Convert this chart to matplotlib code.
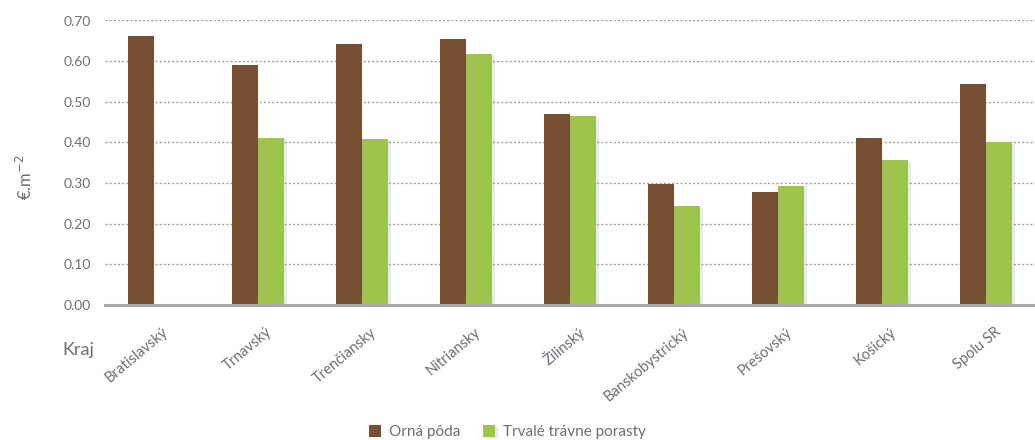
import numpy as np
import matplotlib.pyplot as plt
from matplotlib import patheffects as pe

kraje = ['Bratislavský', 'Trnavský', 'Trenčiansky', 'Nitriansky', 'Žilinský',
         'Banskobystrický', 'Prešovský', 'Košický', 'Spolu SR']
orna_poda = [0.661, 0.590, 0.641, 0.654, 0.469, 0.297, 0.278, 0.410, 0.543]
trvale_porasty = [0.0, 0.411, 0.408, 0.617, 0.464, 0.243, 0.293, 0.356, 0.400]

brown = '#774f33'
green = '#9dc54b'
gray = '#6d6e71'

plt.rcParams['font.family'] = ['Lato', 'DejaVu Sans']

fig = plt.figure(figsize=(10.35, 4.4), dpi=100)
ax = fig.add_axes([105 / 1035, 1 - 305 / 440, 930 / 1035, 284.5 / 440])

x = np.arange(len(kraje))
w = 0.25
ax.bar(x - w / 2, orna_poda, w, color=brown, label='Orná pôda', zorder=3)
zb = ax.bar(x + w / 2, trvale_porasty, w, color=green, label='Trvalé trávne porasty', zorder=3)
for b in zb:
    b.set_path_effects([pe.SimplePatchShadow(offset=(2, -1), shadow_rgbFace='#999999', alpha=0.2),
                        pe.Normal()])

ax.set_xlim(-0.47, 8.47)
ax.set_ylim(0, 0.70)
ax.set_yticks(np.arange(0, 0.71, 0.1))
ax.set_yticklabels(['%.2f' % v for v in np.arange(0, 0.71, 0.1)], color=gray, fontsize=10)
ax.grid(axis='y', linestyle=(0, (1.5, 1.5)), color='#a0a0a0', linewidth=1, zorder=0)
ax.tick_params(axis='y', length=0, pad=10)
ax.tick_params(axis='x', length=0, pad=2)

ax.set_xticks(x + 0.12)
ax.set_xticklabels(kraje, rotation=40, ha='right', va='center', rotation_mode='anchor',
                   color=gray, fontsize=10.5)
for lbl in ax.get_xticklabels():
    lbl.set_y(-0.08)

for s in ['left', 'right', 'top']:
    ax.spines[s].set_visible(False)
ax.spines['bottom'].set_color('#a6a8ab')
ax.spines['bottom'].set_linewidth(2.2)
ax.spines['bottom'].set_zorder(4)

ax.set_ylabel('€.m$^{-2}$', color=gray, fontsize=12)
ax.yaxis.set_label_coords(-0.075, 0.45)
fig.text(62 / 1035, 1 - 350 / 440, 'Kraj', color=gray, fontsize=13, va='center', ha='left')

fig.legend(loc='lower center', bbox_to_anchor=(0.49, -0.03), ncol=2, frameon=False,
           fontsize=11, labelcolor=gray, handlelength=0.8, handleheight=0.8,
           handletextpad=0.5, columnspacing=1.5)

fig.savefig('out.png', dpi=100)
